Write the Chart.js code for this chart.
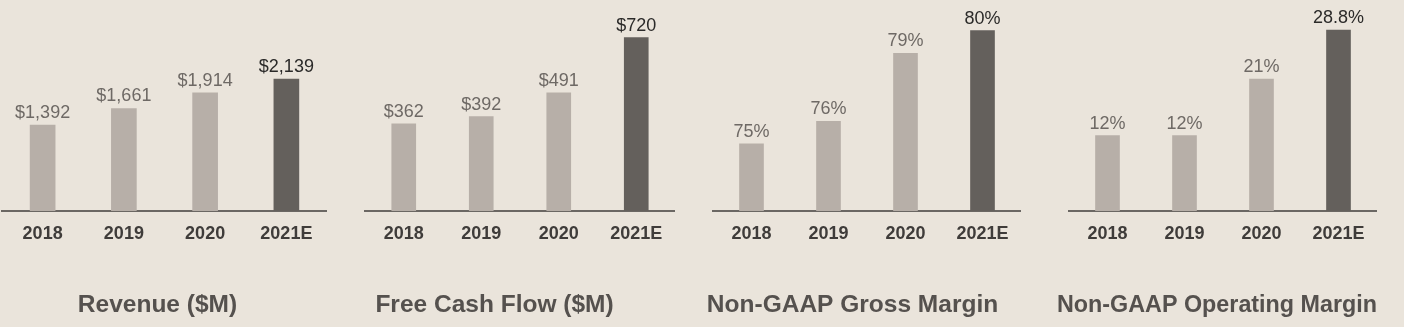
<!DOCTYPE html>
<html lang="en">
<head>
    <meta charset="UTF-8">
    <title>Financial highlights</title>
    <script src="https://cdn.jsdelivr.net/npm/chart.js@4.4.0/dist/chart.umd.min.js"></script>
    <style>
        html, body {
            margin: 0;
            padding: 0;
            background: #eae4db;
            overflow: hidden;
        }
        .panel {
            position: absolute;
            top: 0;
            height: 327px;
        }
    </style>
</head>
<body>

<div class="panel" style="left:-12px; width:339px;"><canvas id="c1"></canvas></div>
<div class="panel" style="left:314px; width:361px;"><canvas id="c2"></canvas></div>
<div class="panel" style="left:684px; width:337px;"><canvas id="c3"></canvas></div>
<div class="panel" style="left:1057px; width:320px;"><canvas id="c4"></canvas></div>

<script>

// data
var years = ['2018', '2019', '2020', '2021E'];
var revenue = [1392, 1661, 1914, 2139];
var freeCashFlow = [362, 392, 491, 720];
var grossMargin = [75, 76, 79, 80];
var operatingMargin = [12, 12, 21, 28.8];

var FONT = "'Liberation Sans', Arial, Helvetica, sans-serif";
var LIGHT = '#b7afa8';
var DARK = '#64605c';

// value label above every bar
var valueLabels = {
    id: 'valueLabels',
    afterDatasetsDraw(chart, args, opts) {
        var ctx = chart.ctx;
        var meta = chart.getDatasetMeta(0);
        ctx.save();
        ctx.font = '18px ' + FONT;
        ctx.textAlign = 'center';
        ctx.textBaseline = 'alphabetic';
        meta.data.forEach(function (bar, i) {
            var v = chart.data.datasets[0].data[i];
            ctx.fillStyle = i === meta.data.length - 1 ? '#2b2a29' : '#6e6965';
            ctx.fillText(opts.format(v), bar.x, bar.y - 7);
        });
        ctx.restore();
    }
};

function makeChart(id, title, values, yMin, yMax, padLeft, thickness, format) {
    return new Chart(document.getElementById(id), {
        type: 'bar',
        data: {
            labels: years,
            datasets: [{
                data: values,
                backgroundColor: values.map(function (v, i) { return i === values.length - 1 ? DARK : LIGHT; }),
                barThickness: thickness
            }]
        },
        options: {
            responsive: true,
            maintainAspectRatio: false,
            animation: false,
            layout: {
                padding: { left: 0, right: 0, top: 10, bottom: 0 }
            },
            scales: {
                x: {
                    grid: { display: false },
                    border: { display: true, color: '#6b6763', width: 2 },
                    ticks: {
                        padding: 4,
                        color: '#3f3c3a',
                        font: { family: FONT, size: 18, weight: 'bold' }
                    }
                },
                y: {
                    // invisible axis, only used to push the plot area right
                    min: yMin,
                    max: yMax,
                    grid: { display: false },
                    border: { display: false },
                    ticks: { display: false },
                    afterFit: function (scale) { scale.width = padLeft; }
                }
            },
            plugins: {
                legend: { display: false },
                tooltip: { enabled: false },
                title: {
                    display: true,
                    position: 'bottom',
                    text: title,
                    color: '#55514e',
                    font: { family: FONT, size: 24.5, weight: 'bold' },
                    padding: { top: 42, bottom: 7 }
                },
                valueLabels: { format: format }
            }
        },
        plugins: [valueLabels]
    });
}

Chart.defaults.font.family = FONT;

function dollars(v) { return '$' + v.toLocaleString('en-US'); }
function percent(v) { return v + '%'; }

makeChart('c1', 'Revenue ($M)', revenue, 0, 3257, 14, 25, dollars);
makeChart('c2', 'Free Cash Flow ($M)', freeCashFlow, 0, 835, 51, 24, dollars);
makeChart('c3', 'Non-GAAP Gross Margin', grossMargin, 72.04, 80.91, 29, 24, percent);
makeChart('c4', 'Non-GAAP Operating Margin', operatingMargin, 0, 32, 12, 24, percent);

</script>

</body>
</html>
